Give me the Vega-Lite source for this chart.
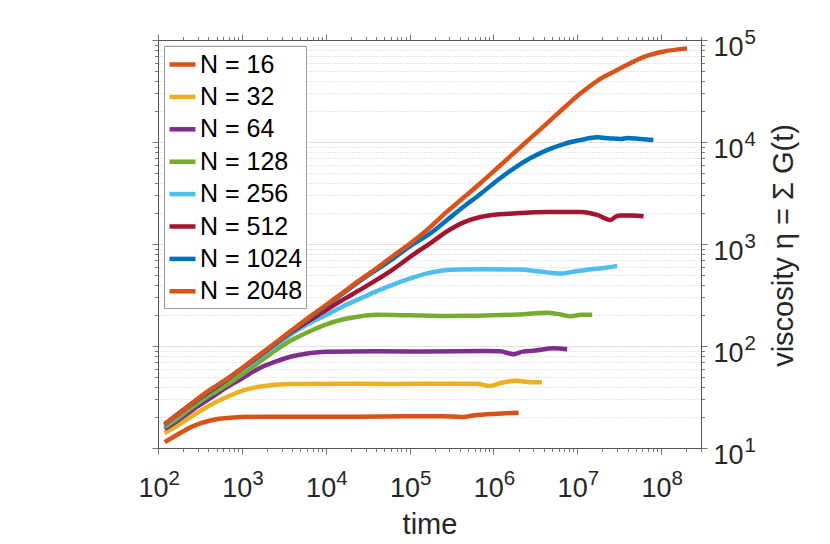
{
  "$schema": "https://vega.github.io/schema/vega-lite/v6.json",
  "width": 543,
  "height": 408,
  "autosize": {"type": "none"},
  "padding": {"left": 158, "top": 40, "right": 129, "bottom": 96},
  "background": "white",
  "data": {
    "values": [
      {"N": "N = 16", "t": 120, "eta": 11.4},
      {"N": "N = 16", "t": 178, "eta": 13.8},
      {"N": "N = 16", "t": 263, "eta": 16.4},
      {"N": "N = 16", "t": 398, "eta": 18.4},
      {"N": "N = 16", "t": 661, "eta": 19.7},
      {"N": "N = 16", "t": 1585, "eta": 20.2},
      {"N": "N = 16", "t": 6310, "eta": 20.2},
      {"N": "N = 16", "t": 25100, "eta": 20.3},
      {"N": "N = 16", "t": 100000, "eta": 20.5},
      {"N": "N = 16", "t": 316000, "eta": 20.4},
      {"N": "N = 16", "t": 437000, "eta": 20.1},
      {"N": "N = 16", "t": 525000, "eta": 20.6},
      {"N": "N = 16", "t": 832000, "eta": 21.4},
      {"N": "N = 16", "t": 1260000, "eta": 21.8},
      {"N": "N = 16", "t": 2000000, "eta": 22.2},

      {"N": "N = 32", "t": 120, "eta": 14.0},
      {"N": "N = 32", "t": 178, "eta": 17.0},
      {"N": "N = 32", "t": 263, "eta": 20.9},
      {"N": "N = 32", "t": 398, "eta": 25.7},
      {"N": "N = 32", "t": 661, "eta": 31.6},
      {"N": "N = 32", "t": 1000, "eta": 36.3},
      {"N": "N = 32", "t": 1585, "eta": 39.8},
      {"N": "N = 32", "t": 3981, "eta": 42.4},
      {"N": "N = 32", "t": 15849, "eta": 42.7},
      {"N": "N = 32", "t": 63096, "eta": 42.4},
      {"N": "N = 32", "t": 199526, "eta": 42.7},
      {"N": "N = 32", "t": 630957, "eta": 42.7},
      {"N": "N = 32", "t": 912011, "eta": 40.6},
      {"N": "N = 32", "t": 1260000, "eta": 43.6},
      {"N": "N = 32", "t": 1900000, "eta": 45.7},
      {"N": "N = 32", "t": 2820000, "eta": 44.2},
      {"N": "N = 32", "t": 3800000, "eta": 44.2},

      {"N": "N = 64", "t": 120, "eta": 15.3},
      {"N": "N = 64", "t": 180, "eta": 19.1},
      {"N": "N = 64", "t": 260, "eta": 23.7},
      {"N": "N = 64", "t": 400, "eta": 29.9},
      {"N": "N = 64", "t": 660, "eta": 39.4},
      {"N": "N = 64", "t": 1000, "eta": 47.9},
      {"N": "N = 64", "t": 1600, "eta": 60.3},
      {"N": "N = 64", "t": 2500, "eta": 70.1},
      {"N": "N = 64", "t": 4000, "eta": 79.4},
      {"N": "N = 64", "t": 6300, "eta": 85.1},
      {"N": "N = 64", "t": 10000, "eta": 87.9},
      {"N": "N = 64", "t": 40000, "eta": 88.7},
      {"N": "N = 64", "t": 160000, "eta": 88.1},
      {"N": "N = 64", "t": 800000, "eta": 89.1},
      {"N": "N = 64", "t": 1200000, "eta": 88.7},
      {"N": "N = 64", "t": 1740000, "eta": 83.2},
      {"N": "N = 64", "t": 2240000, "eta": 88.1},
      {"N": "N = 64", "t": 3160000, "eta": 90.2},
      {"N": "N = 64", "t": 5250000, "eta": 94.8},
      {"N": "N = 64", "t": 7600000, "eta": 92.7},

      {"N": "N = 128", "t": 120, "eta": 16.0},
      {"N": "N = 128", "t": 180, "eta": 20.2},
      {"N": "N = 128", "t": 260, "eta": 25.4},
      {"N": "N = 128", "t": 400, "eta": 32.4},
      {"N": "N = 128", "t": 660, "eta": 41.5},
      {"N": "N = 128", "t": 1000, "eta": 52.5},
      {"N": "N = 128", "t": 1600, "eta": 69.2},
      {"N": "N = 128", "t": 2500, "eta": 90.2},
      {"N": "N = 128", "t": 4000, "eta": 115},
      {"N": "N = 128", "t": 6300, "eta": 138},
      {"N": "N = 128", "t": 10000, "eta": 162},
      {"N": "N = 128", "t": 15800, "eta": 182},
      {"N": "N = 128", "t": 25000, "eta": 195},
      {"N": "N = 128", "t": 40000, "eta": 202},
      {"N": "N = 128", "t": 100000, "eta": 200},
      {"N": "N = 128", "t": 250000, "eta": 197},
      {"N": "N = 128", "t": 630000, "eta": 198},
      {"N": "N = 128", "t": 2000000, "eta": 204},
      {"N": "N = 128", "t": 4400000, "eta": 212},
      {"N": "N = 128", "t": 6300000, "eta": 204},
      {"N": "N = 128", "t": 8300000, "eta": 196},
      {"N": "N = 128", "t": 11200000, "eta": 202},
      {"N": "N = 128", "t": 15100000, "eta": 203},

      {"N": "N = 256", "t": 120, "eta": 16.6},
      {"N": "N = 256", "t": 180, "eta": 21.4},
      {"N": "N = 256", "t": 260, "eta": 27.5},
      {"N": "N = 256", "t": 400, "eta": 35.5},
      {"N": "N = 256", "t": 660, "eta": 46.2},
      {"N": "N = 256", "t": 1000, "eta": 58.2},
      {"N": "N = 256", "t": 1600, "eta": 76.7},
      {"N": "N = 256", "t": 2500, "eta": 100},
      {"N": "N = 256", "t": 4000, "eta": 133},
      {"N": "N = 256", "t": 6300, "eta": 166},
      {"N": "N = 256", "t": 10000, "eta": 200},
      {"N": "N = 256", "t": 15800, "eta": 243},
      {"N": "N = 256", "t": 25000, "eta": 288},
      {"N": "N = 256", "t": 40000, "eta": 343},
      {"N": "N = 256", "t": 63000, "eta": 398},
      {"N": "N = 256", "t": 100000, "eta": 457},
      {"N": "N = 256", "t": 158000, "eta": 513},
      {"N": "N = 256", "t": 250000, "eta": 550},
      {"N": "N = 256", "t": 400000, "eta": 562},
      {"N": "N = 256", "t": 800000, "eta": 565},
      {"N": "N = 256", "t": 2000000, "eta": 562},
      {"N": "N = 256", "t": 3600000, "eta": 537},
      {"N": "N = 256", "t": 6300000, "eta": 513},
      {"N": "N = 256", "t": 10000000, "eta": 543},
      {"N": "N = 256", "t": 15800000, "eta": 569},
      {"N": "N = 256", "t": 23000000, "eta": 589},
      {"N": "N = 256", "t": 30000000, "eta": 610},

      {"N": "N = 512", "t": 120, "eta": 17.0},
      {"N": "N = 512", "t": 260, "eta": 27.5},
      {"N": "N = 512", "t": 660, "eta": 46.6},
      {"N": "N = 512", "t": 1600, "eta": 79.4},
      {"N": "N = 512", "t": 4000, "eta": 139},
      {"N": "N = 512", "t": 6300, "eta": 176},
      {"N": "N = 512", "t": 10000, "eta": 224},
      {"N": "N = 512", "t": 15800, "eta": 282},
      {"N": "N = 512", "t": 25000, "eta": 351},
      {"N": "N = 512", "t": 40000, "eta": 442},
      {"N": "N = 512", "t": 63000, "eta": 562},
      {"N": "N = 512", "t": 112000, "eta": 790},
      {"N": "N = 512", "t": 178000, "eta": 1020},
      {"N": "N = 512", "t": 280000, "eta": 1330},
      {"N": "N = 512", "t": 450000, "eta": 1640},
      {"N": "N = 512", "t": 700000, "eta": 1841},
      {"N": "N = 512", "t": 1100000, "eta": 1950},
      {"N": "N = 512", "t": 1740000, "eta": 1995},
      {"N": "N = 512", "t": 4370000, "eta": 2065},
      {"N": "N = 512", "t": 11000000, "eta": 2065},
      {"N": "N = 512", "t": 17400000, "eta": 1928},
      {"N": "N = 512", "t": 25000000, "eta": 1718},
      {"N": "N = 512", "t": 29000000, "eta": 1862},
      {"N": "N = 512", "t": 33000000, "eta": 1905},
      {"N": "N = 512", "t": 45000000, "eta": 1905},
      {"N": "N = 512", "t": 62000000, "eta": 1871},

      {"N": "N = 1024", "t": 120, "eta": 17.1},
      {"N": "N = 1024", "t": 260, "eta": 27.7},
      {"N": "N = 1024", "t": 660, "eta": 47.0},
      {"N": "N = 1024", "t": 1600, "eta": 80.4},
      {"N": "N = 1024", "t": 4000, "eta": 141},
      {"N": "N = 1024", "t": 10000, "eta": 245},
      {"N": "N = 1024", "t": 25000, "eta": 427},
      {"N": "N = 1024", "t": 63000, "eta": 716},
      {"N": "N = 1024", "t": 100000, "eta": 944},
      {"N": "N = 1024", "t": 178000, "eta": 1274},
      {"N": "N = 1024", "t": 280000, "eta": 1718},
      {"N": "N = 1024", "t": 450000, "eta": 2344},
      {"N": "N = 1024", "t": 700000, "eta": 3090},
      {"N": "N = 1024", "t": 1100000, "eta": 4169},
      {"N": "N = 1024", "t": 1740000, "eta": 5495},
      {"N": "N = 1024", "t": 2750000, "eta": 6918},
      {"N": "N = 1024", "t": 4370000, "eta": 8318},
      {"N": "N = 1024", "t": 6900000, "eta": 9550},
      {"N": "N = 1024", "t": 11000000, "eta": 10470},
      {"N": "N = 1024", "t": 17400000, "eta": 11120},
      {"N": "N = 1024", "t": 25000000, "eta": 10840},
      {"N": "N = 1024", "t": 33000000, "eta": 10720},
      {"N": "N = 1024", "t": 40000000, "eta": 10960},
      {"N": "N = 1024", "t": 56000000, "eta": 10720},
      {"N": "N = 1024", "t": 81000000, "eta": 10470},

      {"N": "N = 2048", "t": 120, "eta": 17.2},
      {"N": "N = 2048", "t": 180, "eta": 21.9},
      {"N": "N = 2048", "t": 260, "eta": 27.9},
      {"N": "N = 2048", "t": 400, "eta": 36.3},
      {"N": "N = 2048", "t": 660, "eta": 47.3},
      {"N": "N = 2048", "t": 1000, "eta": 60.3},
      {"N": "N = 2048", "t": 1600, "eta": 81.3},
      {"N": "N = 2048", "t": 2500, "eta": 107},
      {"N": "N = 2048", "t": 4000, "eta": 144},
      {"N": "N = 2048", "t": 6300, "eta": 191},
      {"N": "N = 2048", "t": 10000, "eta": 251},
      {"N": "N = 2048", "t": 15800, "eta": 331},
      {"N": "N = 2048", "t": 25000, "eta": 437},
      {"N": "N = 2048", "t": 40000, "eta": 575},
      {"N": "N = 2048", "t": 63000, "eta": 759},
      {"N": "N = 2048", "t": 100000, "eta": 1000},
      {"N": "N = 2048", "t": 158000, "eta": 1349},
      {"N": "N = 2048", "t": 280000, "eta": 2075},
      {"N": "N = 2048", "t": 450000, "eta": 2884},
      {"N": "N = 2048", "t": 700000, "eta": 3936},
      {"N": "N = 2048", "t": 1100000, "eta": 5495},
      {"N": "N = 2048", "t": 1740000, "eta": 7745},
      {"N": "N = 2048", "t": 2750000, "eta": 10840},
      {"N": "N = 2048", "t": 4370000, "eta": 15240},
      {"N": "N = 2048", "t": 7600000, "eta": 23070},
      {"N": "N = 2048", "t": 11000000, "eta": 30000},
      {"N": "N = 2048", "t": 17400000, "eta": 39810},
      {"N": "N = 2048", "t": 27500000, "eta": 48980},
      {"N": "N = 2048", "t": 43700000, "eta": 59570},
      {"N": "N = 2048", "t": 69000000, "eta": 70150},
      {"N": "N = 2048", "t": 112000000, "eta": 77620},
      {"N": "N = 2048", "t": 205000000, "eta": 82790}
    ]
  },
  "layer": [
    {
      "mark": {"type": "line", "strokeWidth": 4.5, "interpolate": "monotone", "clip": true},
      "encoding": {
        "x": {
          "field": "t",
          "type": "quantitative",
          "scale": {"type": "log", "domain": [100, 300000000], "nice": false},
          "axis": {
            "orient": "bottom",
            "title": "time",
            "titleFontSize": 29,
            "titleFontWeight": "normal",
            "titleY": 85,
            "titleBaseline": "alphabetic",
            "values": [100, 200, 300, 400, 500, 600, 700, 800, 900, 1000, 2000, 3000, 4000, 5000, 6000, 7000, 8000, 9000, 10000, 20000, 30000, 40000, 50000, 60000, 70000, 80000, 90000, 100000, 200000, 300000, 400000, 500000, 600000, 700000, 800000, 900000, 1000000, 2000000, 3000000, 4000000, 5000000, 6000000, 7000000, 8000000, 9000000, 10000000, 20000000, 30000000, 40000000, 50000000, 60000000, 70000000, 80000000, 90000000, 100000000, 200000000, 300000000],
            "labelExpr": "abs(log(datum.value)/LN10 - round(log(datum.value)/LN10)) < 0.001 ? '10' : ''",
            "labelFontSize": 27,
            "labelPadding": 42,
            "labelAlign": "right",
            "labelOffset": 10,
            "labelBaseline": "alphabetic",
            "labelFlush": false,
            "labelOverlap": false,
            "tickSize": {"condition": {"test": "abs(log(datum.value)/LN10 - round(log(datum.value)/LN10)) < 0.001", "value": 6}, "value": 3.5},
            "grid": false
          }
        },
        "y": {
          "field": "eta",
          "type": "quantitative",
          "scale": {"type": "log", "domain": [10, 100000], "nice": false},
          "axis": {
            "orient": "right",
            "title": "viscosity η  =  Σ  G(t)",
            "titleFontSize": 29,
            "titleFontWeight": "normal",
            "titleAngle": 270,
            "titleX": 82,
            "titleY": 205,
            "titleAlign": "center",
            "titleBaseline": "middle",
            "values": [10, 20, 30, 40, 50, 60, 70, 80, 90, 100, 200, 300, 400, 500, 600, 700, 800, 900, 1000, 2000, 3000, 4000, 5000, 6000, 7000, 8000, 9000, 10000, 20000, 30000, 40000, 50000, 60000, 70000, 80000, 90000, 100000],
            "labelExpr": "abs(log(datum.value)/LN10 - round(log(datum.value)/LN10)) < 0.001 ? '10' : ''",
            "labelFontSize": 27,
            "labelPadding": 6,
            "labelOffset": 15,
            "labelBaseline": "alphabetic",
            "labelFlush": false,
            "labelOverlap": false,
            "tickSize": {"condition": {"test": "abs(log(datum.value)/LN10 - round(log(datum.value)/LN10)) < 0.001", "value": 6}, "value": 3.5},
            "grid": true,
            "gridColor": {"condition": {"test": "abs(log(datum.value)/LN10 - round(log(datum.value)/LN10)) < 0.001", "value": "#e3e3e3"}, "value": "#cfcfcf"},
            "gridDash": {"condition": {"test": "abs(log(datum.value)/LN10 - round(log(datum.value)/LN10)) < 0.001", "value": []}, "value": [1, 2]},
            "gridWidth": 1
          }
        },
        "color": {
          "field": "N",
          "type": "nominal",
          "scale": {
            "domain": ["N = 16", "N = 32", "N = 64", "N = 128", "N = 256", "N = 512", "N = 1024", "N = 2048"],
            "range": ["#D95319", "#EDB120", "#7E2F8E", "#77AC30", "#4DBEEE", "#A2142F", "#0072BD", "#D95319"]
          },
          "legend": {
            "orient": "top-left",
            "offset": 6,
            "title": null,
            "symbolType": "stroke",
            "symbolSize": 676,
            "symbolStrokeWidth": 4.5,
            "labelFontSize": 25,
            "labelColor": "#000000",
            "labelOffset": 2,
            "rowPadding": 3.4,
            "padding": 3,
            "strokeColor": "#9a9a9a",
            "fillColor": "white"
          }
        }
      }
    },
    {
      "mark": {"type": "line", "strokeOpacity": 0},
      "encoding": {
        "x": {
          "field": "t",
          "type": "quantitative",
          "axis": {
            "orient": "top",
            "title": null,
            "labels": false,
            "grid": false,
            "values": [100, 200, 300, 400, 500, 600, 700, 800, 900, 1000, 2000, 3000, 4000, 5000, 6000, 7000, 8000, 9000, 10000, 20000, 30000, 40000, 50000, 60000, 70000, 80000, 90000, 100000, 200000, 300000, 400000, 500000, 600000, 700000, 800000, 900000, 1000000, 2000000, 3000000, 4000000, 5000000, 6000000, 7000000, 8000000, 9000000, 10000000, 20000000, 30000000, 40000000, 50000000, 60000000, 70000000, 80000000, 90000000, 100000000, 200000000, 300000000],
            "tickSize": {"condition": {"test": "abs(log(datum.value)/LN10 - round(log(datum.value)/LN10)) < 0.001", "value": 6}, "value": 3.5}
          }
        },
        "y": {
          "field": "eta",
          "type": "quantitative",
          "axis": {
            "orient": "left",
            "title": null,
            "labels": false,
            "grid": false,
            "values": [10, 20, 30, 40, 50, 60, 70, 80, 90, 100, 200, 300, 400, 500, 600, 700, 800, 900, 1000, 2000, 3000, 4000, 5000, 6000, 7000, 8000, 9000, 10000, 20000, 30000, 40000, 50000, 60000, 70000, 80000, 90000, 100000],
            "tickSize": {"condition": {"test": "abs(log(datum.value)/LN10 - round(log(datum.value)/LN10)) < 0.001", "value": 6}, "value": 3.5}
          }
        }
      }
    },
    {
      "mark": {"type": "line", "strokeOpacity": 0},
      "encoding": {
        "x": {
          "field": "t",
          "type": "quantitative",
          "axis": {
            "orient": "bottom",
            "title": null,
            "domain": false,
            "grid": false,
            "tickSize": 6,
            "tickOpacity": 0,
            "values": [100, 1000, 10000, 100000, 1000000, 10000000, 100000000],
            "labelExpr": "'' + round(log(datum.value)/LN10)",
            "labelFontSize": 20.5,
            "labelPadding": 30,
            "labelAlign": "left",
            "labelOffset": 10,
            "labelBaseline": "alphabetic",
            "labelFlush": false,
            "labelOverlap": false
          }
        },
        "y": {
          "field": "eta",
          "type": "quantitative",
          "axis": {
            "orient": "right",
            "title": null,
            "domain": false,
            "grid": false,
            "tickSize": 6,
            "tickOpacity": 0,
            "values": [10, 100, 1000, 10000, 100000],
            "labelExpr": "'' + round(log(datum.value)/LN10)",
            "labelFontSize": 20.5,
            "labelPadding": 37,
            "labelAlign": "left",
            "labelOffset": 3,
            "labelBaseline": "alphabetic",
            "labelFlush": false,
            "labelOverlap": false
          }
        }
      }
    }
  ],
  "resolve": {"axis": {"x": "independent", "y": "independent"}},
  "config": {
    "font": "Liberation Sans",
    "view": {"stroke": "transparent"},
    "axis": {
      "domainColor": "#555555",
      "domainWidth": 1,
      "tickColor": "#555555",
      "tickWidth": 0.8,
      "labelColor": "#262626",
      "titleColor": "#262626",
      "labelFont": "Liberation Sans",
      "titleFont": "Liberation Sans"
    },
    "legend": {
      "labelFont": "Liberation Sans"
    }
  }
}
